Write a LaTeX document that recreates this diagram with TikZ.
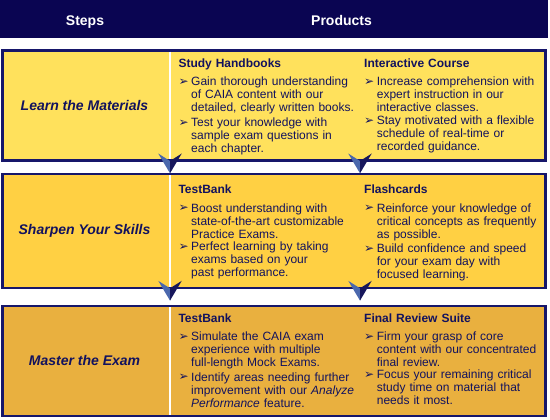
\documentclass[tikz,border=0pt]{standalone}
\usepackage{fontspec}
\setmainfont{Liberation Sans}
\newfontfamily\symfont{DejaVu Sans}
\usepackage{xcolor}
\usepackage{tikz}
\usetikzlibrary{positioning,calc}
\definecolor{hdrnavy}{HTML}{0A0552}
\definecolor{edgenavy}{HTML}{16166A}
\definecolor{inknavy}{HTML}{12125E}
\definecolor{rowA}{HTML}{FFE15C}
\definecolor{rowB}{HTML}{FFD043}
\definecolor{rowC}{HTML}{E9B03F}
\definecolor{chevlite}{HTML}{4B68AD}
\definecolor{chevdark}{HTML}{17175C}
\newcommand{\bul}{{\symfont\fontsize{12}{12}\selectfont\raisebox{0.2pt}{➢}}}
\newcommand{\ttl}[1]{\textbf{#1}\par\vspace{3pt}}
\newcommand{\itm}[1]{\par\vspace{2.5pt}\noindent\makebox[12.7pt][l]{\bul}\parbox[t]{175pt}{#1}}
\tikzset{
  hdrbar/.style  = {rectangle, fill=hdrnavy, inner sep=0pt, outer sep=0pt},
  hdrtxt/.style  = {font=\fontsize{14}{16}\selectfont\bfseries, text=white, anchor=base},
  rowbox/.style  = {rectangle, draw=edgenavy, fill=#1, line width=2.4pt, inner sep=0pt,
                    outer sep=0pt, minimum width=543pt},
  steplbl/.style = {font=\fontsize{14}{16}\selectfont\bfseries\itshape, text=inknavy, anchor=base},
  prod/.style    = {text width=185pt, inner sep=0pt, align=left, anchor=base west,
                    font=\fontsize{12}{13}\selectfont, text=inknavy},
  divider/.style = {draw=white, line width=2pt},
  chev/.pic      = {
    \fill[chevlite] (-11.75,-7.2) -- (0,0.3) -- (0,12.6) -- cycle;
    \fill[chevdark] (11.75,-7.2) -- (0,0.3) -- (0,12.6) -- cycle;
  },
}

\begin{document}
\begin{tikzpicture}[x=1pt, y=-1pt]
  \useasboundingbox (0,0) rectangle (550,420);

  % header
  \node[hdrbar, minimum width=548pt, minimum height=38.5pt, anchor=north west] (hdr) at (0,0) {};
  \node[hdrtxt] (hsteps) at (85,25.8) {Steps};
  \node[hdrtxt] (hprod) at (341.5,25.8) {Products};

  % rows
  \node[rowbox=rowA, minimum height=110.2pt, anchor=north west] (row1) at (2.5,50.5) {};
  \node[rowbox=rowB, minimum height=113.7pt, anchor=north west] (row2) at (2.5,174.3) {};
  \node[rowbox=rowC, minimum height=110pt, anchor=north west] (row3) at (2.5,306) {};
  \draw[divider] (169.7,51.7) -- (169.7,159.5);
  \draw[divider] (169.7,175.5) -- (169.7,286.8);
  \draw[divider] (169.7,307.2) -- (169.7,414.8);

  % steps
  \node[steplbl] (step1) at (84.5,110.7) {Learn the Materials};
  \node[steplbl] (step2) at (84.5,235) {Sharpen Your Skills};
  \node[steplbl] (step3) at (84.5,365.3) {Master the Exam};

  % products, row 1
  \node[prod] (hand) at (178.3,67.5) {\ttl{Study Handbooks}
    \itm{Gain thorough understanding\\of CAIA content with our\\detailed, clearly written books.}
    \itm{Test your knowledge with\\sample exam questions in\\each chapter.}};
  \node[prod] (course) at (364,67.5) {\ttl{Interactive Course}
    \itm{Increase comprehension with\\expert instruction in our\\interactive classes.}
    \itm{Stay motivated with a flexible\\schedule of real-time or\\recorded guidance.}};

  % products, row 2
  \node[prod] (bank1) at (178.3,193.6) {\ttl{TestBank}
    \itm{Boost understanding with\\state-of-the-art customizable\\Practice Exams.}
    \itm{Perfect learning by taking\\exams based on your\\past performance.}};
  \node[prod] (cards) at (364,193.6) {\ttl{Flashcards}
    \itm{Reinforce your knowledge of\\critical concepts as frequently\\as possible.}
    \itm{Build confidence and speed\\for your exam day with\\focused learning.}};

  % products, row 3
  \node[prod] (bank2) at (178.3,322) {\ttl{TestBank}
    \itm{Simulate the CAIA exam\\experience with multiple\\full-length Mock Exams.}
    \itm{Identify areas needing further\\improvement with our \textit{Analyze}\\\textit{Performance} feature.}};
  \node[prod] (suite) at (364,322) {\ttl{Final Review Suite}
    \itm{Firm your grasp of core\\content with our concentrated\\final review.}
    \itm{Focus your remaining critical\\study time on material that\\needs it most.}};

  % chevrons between rows
  \coordinate (j1a) at (170,160.7);
  \coordinate (j1b) at (360,160.7);
  \coordinate (j2a) at (170,288);
  \coordinate (j2b) at (360,288);
  \foreach \j in {j1a,j1b,j2a,j2b}
    \pic at (\j) {chev};
\end{tikzpicture}
\end{document}
